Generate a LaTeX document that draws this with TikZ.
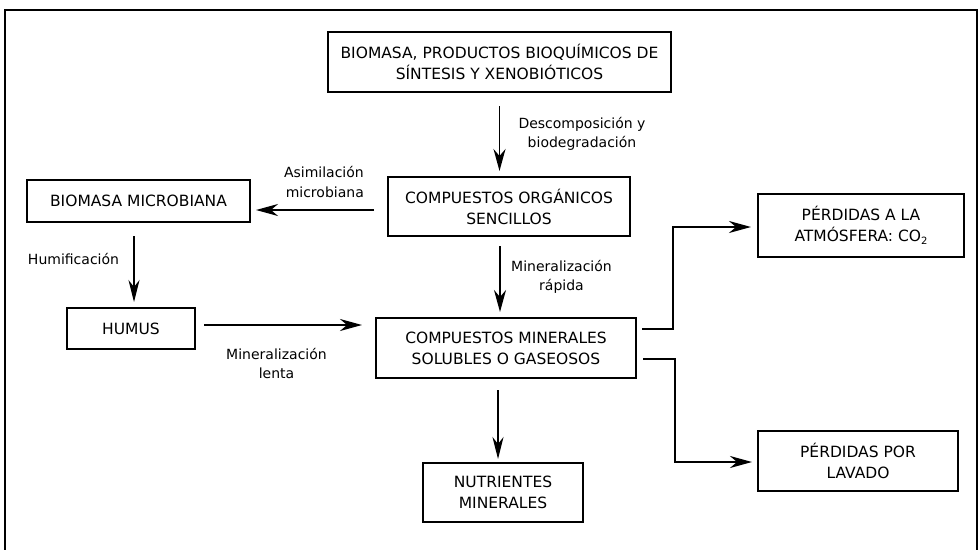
\documentclass[tikz,border=0pt]{standalone}
\usepackage{fontspec}
\setmainfont{DejaVu Sans}
\usetikzlibrary{arrows.meta,calc}
\tikzset{
  box/.style={draw, line width=2pt, inner sep=0pt, align=center, font=\fontsize{15.5}{21}\selectfont},
  lbl/.style={inner sep=0pt, font=\fontsize{14}{19.5}\selectfont},
  arr/.style={line width=1.8pt, -{Stealth[length=22pt,width=12pt,inset=7pt]}},
  thinarr/.style={line width=1.2pt, -{Stealth[length=22pt,width=11pt,inset=7pt]}},
  conn/.style={line width=2.2pt, -{Stealth[length=22pt,width=12pt,inset=7pt]}},
}
\newcommand{\subtwo}{\raisebox{-0.35ex}{\fontsize{10}{10}\selectfont 2}}
\begin{document}
\begin{tikzpicture}[x=1pt,y=-1pt]
\useasboundingbox (0,0) rectangle (980,549);
\draw[line width=1.8pt] (5,553) -- (5,10) -- (977,10) -- (977,553);

\node[box, minimum width=343pt, minimum height=60pt] (b1) at (499.5,62)
  {BIOMASA, PRODUCTOS BIOQUÍMICOS DE\\SÍNTESIS Y XENOBIÓTICOS};
\node[box, minimum width=242pt, minimum height=59pt] (b2) at (509,206.5)
  {COMPUESTOS ORGÁNICOS\\SENCILLOS};
\node[box, minimum width=223pt, minimum height=42pt] (b3) at (138.5,201)
  {BIOMASA MICROBIANA};
\node[box, minimum width=128pt, minimum height=41pt] (hum) at (131,328.5)
  {HUMUS};
\node[box, minimum width=260pt, minimum height=60pt] (mn) at (506,348)
  {COMPUESTOS MINERALES\\SOLUBLES O GASEOSOS};
\node[box, minimum width=206pt, minimum height=63pt] (atm) at (861,225.5)
  {PÉRDIDAS A LA\\ATMÓSFERA: CO\subtwo};
\node[box, minimum width=200pt, minimum height=60pt] (lav) at (858,461)
  {PÉRDIDAS POR\\LAVADO};
\node[box, minimum width=160pt, minimum height=59pt] (nut) at (503,492.5)
  {NUTRIENTES\\MINERALES};

% labels
\node[lbl, align=center] (l1) at (582,134) {Descomposición y\\biodegradación};
\node[lbl, align=right, anchor=east] (l2) at (364,182) {Asimilación\\microbiana};
\node[lbl] (l3) at (73.5,259) {Humificación};
\node[lbl, align=center] (l4) at (561.5,277) {Mineralización\\rápida};
\node[lbl, align=center] (l5) at (276.5,363.5) {Mineralización\\lenta};

% arrows
\draw[arr, shorten <=13pt, shorten >=5pt] (b1.south) -- (b1.south |- b2.north);
\draw[arr, shorten <=13pt, shorten >=5pt] ([yshift=-3.5pt]b2.west) -- ([yshift=-3.5pt]b2.west -| b3.east);
\draw[thinarr, shorten <=13pt, shorten >=5pt] ([xshift=-4.5pt]b3.south) -- ([xshift=-4.5pt]b3.south |- hum.north);
\draw[arr, shorten <=9pt, shorten >=5pt] ([xshift=-9pt]b2.south) -- ([xshift=-9pt]b2.south |- mn.north);
\draw[arr, shorten <=8pt, shorten >=13pt] ([yshift=3.5pt]hum.east) -- ([yshift=3.5pt]hum.east -| mn.west);
\draw[thinarr, shorten <=11pt, shorten >=3pt] ([xshift=-8pt]mn.south) -- ([xshift=-8pt]mn.south |- nut.north);
\draw[conn, shorten <=5pt, shorten >=6pt] ([yshift=19pt]mn.east) -- ++(36,0) |- ([yshift=-1.5pt]atm.west);
\draw[conn, shorten <=6pt, shorten >=5pt] ([yshift=-11pt]mn.east) -- ++(38,0) |- ([yshift=-1pt]lav.west);
\end{tikzpicture}
\end{document}
